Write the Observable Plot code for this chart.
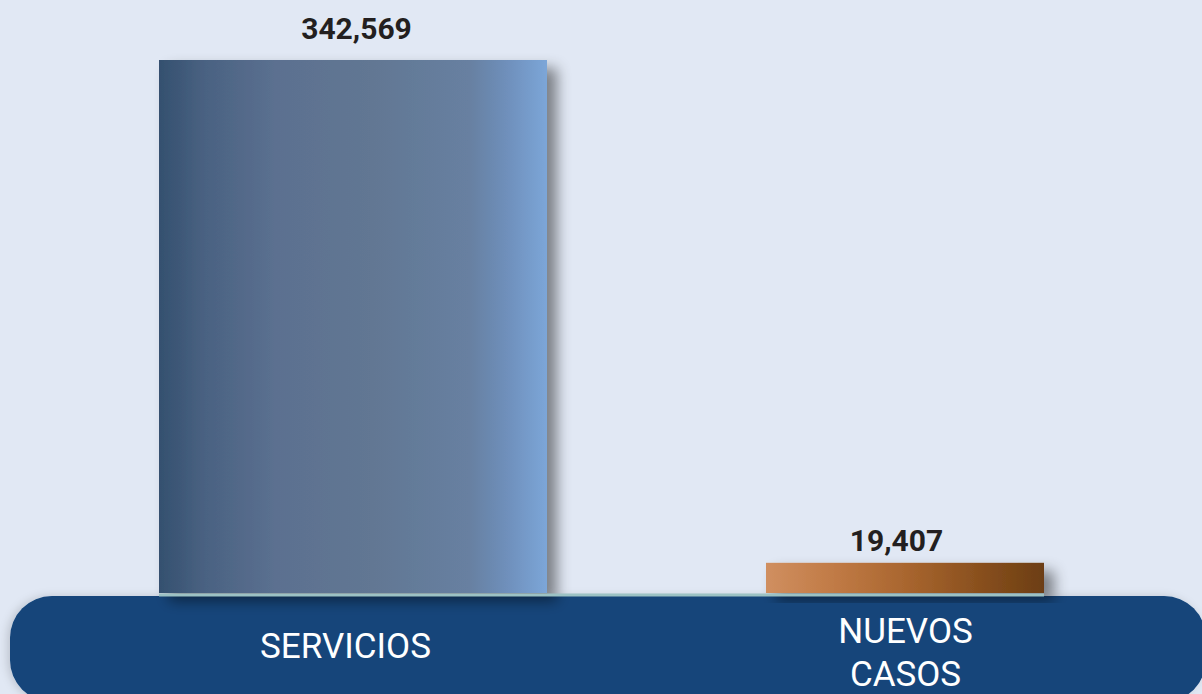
<!DOCTYPE html>
<html>
<head>
<meta charset="utf-8">
<script src="https://cdn.jsdelivr.net/npm/d3@7"></script>
<script src="https://cdn.jsdelivr.net/npm/@observablehq/plot@0.6"></script>
<style>
  html, body { margin: 0; padding: 0; background: #E1E8F4; overflow: hidden; }
  #chart { width: 1202px; height: 694px; }
</style>
</head>
<body>
<div id="chart"></div>
<script>
const categories = ["SERVICIOS", "NUEVOS CASOS"];
const values = [342569, 19407];
const valueLabels = ["342,569", "19,407"];
const tickLabels = ["SERVICIOS", "NUEVOS\nCASOS"];

const data = categories.map((c, i) => ({cat: c, value: values[i], label: valueLabels[i]}));
const first = data.filter(d => d.cat === categories[0]);
const second = data.filter(d => d.cat === categories[1]);
const fmt = d => tickLabels[categories.indexOf(d)];

const chart = Plot.plot({
  width: 1202,
  height: 694,
  marginLeft: 77,
  marginRight: 21,
  marginTop: 60,
  marginBottom: 101,
  x: {domain: categories, padding: 0, axis: null, label: null},
  y: {domain: [0, d3.max(values)], axis: null},
  style: {background: "transparent", fontFamily: "Roboto, sans-serif", overflow: "visible"},
  marks: [
    Plot.barY(first, {x: "cat", y: "value", fill: "url(#gradBlue)", insetLeft: 82, insetRight: 82}),
    Plot.barY(second, {x: "cat", y: "value", fill: "url(#gradOrange)", insetLeft: 137, insetRight: 137}),
    Plot.ruleY([0], {stroke: "#9CC2C4", strokeWidth: 3, insetLeft: 82, insetRight: 137, dy: 1.5}),
    Plot.text(first, {x: "cat", y: "value", text: "label", lineAnchor: "middle", dy: -31, dx: 3, fontSize: 30, fontWeight: 700, fill: "#231F20"}),
    Plot.text(second, {x: "cat", y: "value", text: "label", lineAnchor: "middle", dy: -22, dx: -9, fontSize: 30, fontWeight: 700, fill: "#231F20"}),
    Plot.axisX([categories[0]], {tickSize: 0, tickPadding: 51, dx: -8, lineAnchor: "middle", lineHeight: 1.23, fontSize: 35, color: "white",
      label: null, tickFormat: fmt}),
    Plot.axisX([categories[1]], {tickSize: 0, tickPadding: 57, dx: 0, lineAnchor: "middle", lineHeight: 1.23, fontSize: 35, color: "white",
      label: null, tickFormat: fmt})
  ]
});

document.getElementById("chart").appendChild(chart);

// decorations: gradients, shadows, rounded bottom band
const svg = d3.select(chart);
const defs = svg.insert("defs", ":first-child");
const gb = defs.append("linearGradient").attr("id", "gradBlue").attr("x1", 0).attr("x2", 1).attr("y1", 0).attr("y2", 0);
[[0, "#34506F"], [0.12, "#4A6282"], [0.3, "#5B7090"], [0.55, "#627793"], [0.8, "#6780A1"], [0.9, "#6F90BC"], [1, "#7CA6D8"]]
  .forEach(([o, c]) => gb.append("stop").attr("offset", o).attr("stop-color", c));
const go = defs.append("linearGradient").attr("id", "gradOrange").attr("x1", 0).attr("x2", 1).attr("y1", 0).attr("y2", 0);
[[0, "#D08F60"], [0.25, "#C07A45"], [0.5, "#A9662F"], [0.75, "#8B511F"], [1, "#6C3E12"]]
  .forEach(([o, c]) => go.append("stop").attr("offset", o).attr("stop-color", c));
const f = defs.append("filter").attr("id", "shadow").attr("x", "-20%").attr("y", "-20%").attr("width", "150%").attr("height", "150%");
f.append("feDropShadow").attr("dx", 10).attr("dy", 8).attr("stdDeviation", 7).attr("flood-color", "#000").attr("flood-opacity", 0.45);
const fb = defs.append("filter").attr("id", "bandShadow").attr("x", "-5%").attr("y", "-20%").attr("width", "110%").attr("height", "150%");
fb.append("feDropShadow").attr("dx", -3).attr("dy", 0).attr("stdDeviation", 4).attr("flood-color", "#000").attr("flood-opacity", 0.15);

svg.selectAll("g[fill^='url']").attr("filter", "url(#shadow)");

svg.insert("rect", "defs + *")
  .attr("x", 10).attr("y", 596).attr("width", 1196).attr("height", 106)
  .attr("rx", 42).attr("ry", 42)
  .attr("fill", "#13447A")
  .attr("filter", "url(#bandShadow)");
</script>
</body>
</html>
